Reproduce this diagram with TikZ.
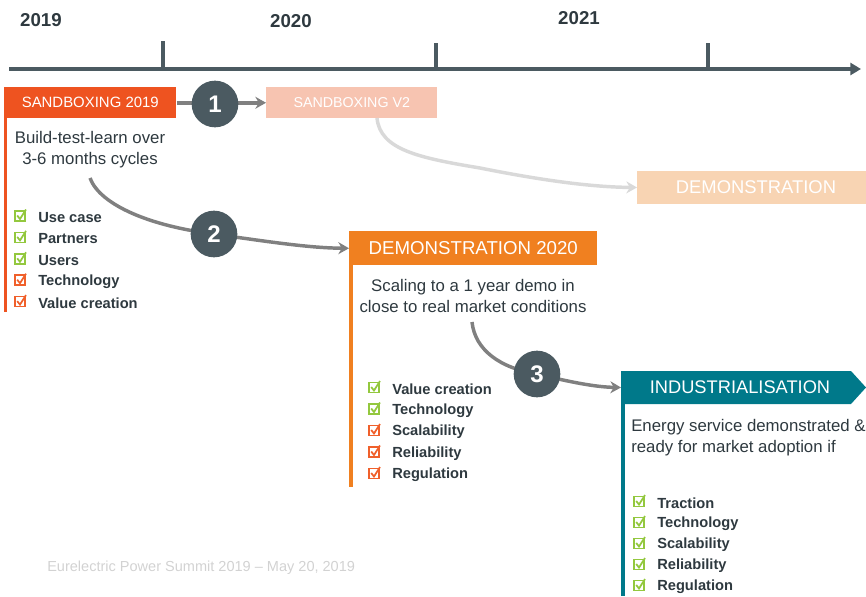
\documentclass[tikz,border=0pt]{standalone}
\usepackage{fontspec}
\setmainfont{Liberation Sans}
\usetikzlibrary{arrows.meta}

\definecolor{slate}{HTML}{4B5A61}
\definecolor{ink}{HTML}{2E393F}
\definecolor{flowgray}{HTML}{808080}
\definecolor{fadegray}{HTML}{D9D9D9}
\definecolor{sandred}{HTML}{EE5320}
\definecolor{sandpale}{HTML}{F7C4B1}
\definecolor{demoorange}{HTML}{F08020}
\definecolor{demopale}{HTML}{F8D4B3}
\definecolor{indteal}{HTML}{00798A}
\definecolor{chkgreen}{HTML}{93C83E}
\definecolor{chkorange}{HTML}{F0602B}
\definecolor{footgray}{HTML}{D2D2D2}

\tikzset{chk/.pic={
  \draw[line width=1.3pt] (-5,-5) rectangle (5,5);
  \draw[line width=1.3pt] (-2.8,-0.5) -- (0,3) -- (6,-6.5);
}}

\begin{document}
\begin{tikzpicture}[x=0.75pt,y=-0.75pt,
    year/.style={font=\fontsize{14}{16}\selectfont\bfseries,text=ink},
    hdr/.style={anchor=north west,text=white,inner sep=0pt},
    body/.style={font=\fontsize{12.6}{15.8}\selectfont,text=ink,inner sep=0pt},
    item/.style={anchor=west,font=\fontsize{11}{12}\selectfont\bfseries,text=ink,inner sep=0pt},
    stepdot/.style={circle,fill=slate,text=white,minimum size=35pt,inner sep=0pt,
      font=\fontsize{18}{18}\selectfont\bfseries},
    flow/.style={draw=flowgray,line width=2.6pt,-{Stealth[length=8pt,width=9pt]}}]
  \useasboundingbox (0,0) rectangle (866,596);

  % time axis
  \draw[slate,line width=2.3pt,-{Stealth[length=8pt,width=9pt,inset=0pt]}] (9,69) -- (861,69);
  \draw[slate,line width=2.3pt] (163,41) -- (163,69);
  \draw[slate,line width=2.3pt] (436,43) -- (436,69);
  \draw[slate,line width=2.3pt] (708,43) -- (708,69);
  \node[year] (y19) at (41,20) {2019};
  \node[year] (y20) at (291,21) {2020};
  \node[year] (y21) at (579,18) {2021};

  % stage boxes
  \node[hdr,fill=sandred,minimum width=129pt,minimum height=23.25pt,
    font=\fontsize{11.2}{13}\selectfont] (sb19) at (4,87) {SANDBOXING 2019};
  \node[hdr,fill=sandpale,minimum width=128.25pt,minimum height=23.25pt,
    font=\fontsize{10.7}{12}\selectfont] (sbv2) at (266,87) {SANDBOXING V2};
  \fill[demopale] (637,171) rectangle (866,204);
  \node[text=white,font=\fontsize{13.8}{15}\selectfont,inner sep=0pt] (demof) at (756,187.5) {DEMONSTRATION};
  \coordinate (demofw) at (637,187.5);
  \node[hdr,fill=demoorange,minimum width=186pt,minimum height=25.5pt,
    font=\fontsize{14}{15}\selectfont] (demo20) at (349,231) {DEMONSTRATION 2020};
  \fill[indteal] (621,371) -- (851,371) -- (866,387.5) -- (851,404) -- (621,404) -- cycle;
  \node[text=white,font=\fontsize{13.7}{15}\selectfont,inner sep=0pt] (indus) at (740,387.5) {INDUSTRIALISATION};
  \coordinate (indw) at (621,387.5);

  % side bars
  \draw[sandred,line width=2.6pt] (5.5,118) -- (5.5,312);
  \draw[demoorange,line width=2.6pt] (351,265) -- (351,487);
  \draw[indteal,line width=2.6pt] (623,404) -- (623,596);

  % descriptions
  \node[body,align=center] (bt) at (90,150) {Build-test-learn over\\3-6 months cycles};
  \node[body,align=center] (sc) at (473,296) {Scaling to a 1 year demo in\\close to real market conditions};
  \node[body,align=left,anchor=west] (es) at (631,438) {Energy service demonstrated \&\\ready for market adoption if};

  % flows
  \coordinate (p1) at (215,104);
  \coordinate (p2) at (214,234);
  \coordinate (p3) at (537,374);
  \coordinate (s2) at (90,178);
  \coordinate (s3) at (472,322);
  \draw[flow,line width=3.4pt] (sb19.east) -- (sbv2.west);
  \draw[flow,draw=fadegray] (377,118) .. controls (380,150) and (420,158) .. (480,168)
    .. controls (540,180) and (590,187) .. (demofw);
  \draw[flow] (s2) .. controls (100,205) and (150,226) .. (p2)
    .. controls (270,242) and (310,248) .. (demo20.west);
  \draw[flow] (s3) .. controls (475,350) and (500,368) .. (p3)
    .. controls (570,382) and (595,387) .. (indw);
  \node[stepdot] (c1) at (p1) {1};
  \node[stepdot] (c2) at (p2) {2};
  \node[stepdot] (c3) at (p3) {3};

  % checklists
  \foreach \t/\c [count=\i] in {Use case/chkgreen,Partners/chkgreen,Users/chkgreen,
      Technology/chkorange,Value creation/chkorange}{
    \pic[color=\c] at (20,216+21.4*\i-21.4) {chk};
    \node[item] (la\i) at (38,217.5+21.4*\i-21.4) {\t};
  }
  \foreach \t/\c [count=\i] in {Value creation/chkgreen,Technology/chkgreen,Scalability/chkorange,
      Reliability/chkorange,Regulation/chkorange}{
    \pic[color=\c] at (374,387.5+21.5*\i-21.5) {chk};
    \node[item] (lb\i) at (392,389+21.5*\i-21.5) {\t};
  }
  \foreach \t [count=\i] in {Traction,Technology,Scalability,Reliability,Regulation}{
    \pic[color=chkgreen] at (639,501.5+21*\i-21) {chk};
    \node[item] (lc\i) at (657,503+21*\i-21) {\t};
  }

  \node[anchor=west,text=footgray,font=\fontsize{10.9}{12}\selectfont,inner sep=0pt] (foot) at (47,568)
    {Eurelectric Power Summit 2019 -- May 20, 2019};
\end{tikzpicture}
\end{document}
